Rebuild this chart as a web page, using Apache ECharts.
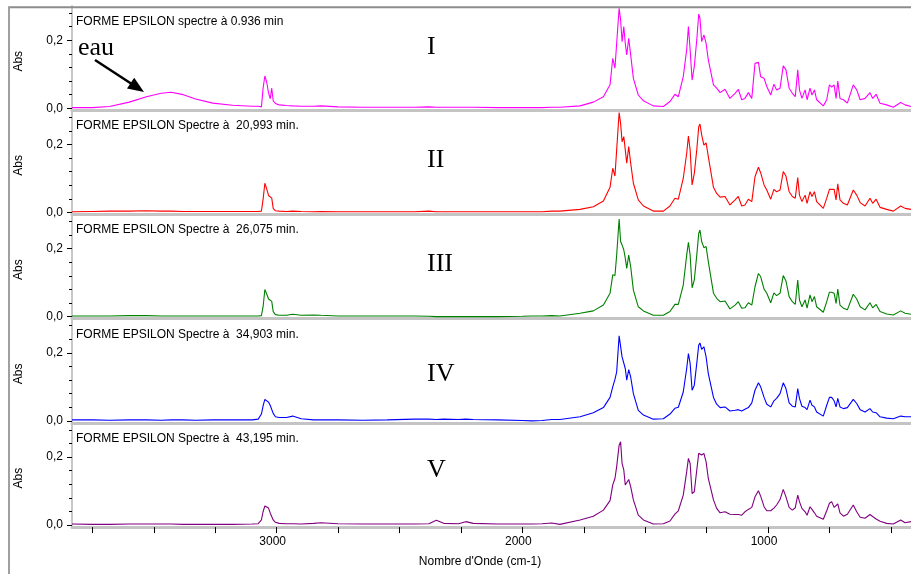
<!DOCTYPE html>
<html>
<head>
<meta charset="utf-8">
<script src="https://cdn.jsdelivr.net/npm/echarts@6/dist/echarts.min.js"></script>
<style>
html,body{margin:0;padding:0;background:#fff;}
#chart{width:911px;height:574px;}
</style>
</head>
<body>
<div id="chart"></div>
<script>
// ---- data ----
const wavenumbers = [
  3833,3750,3680,3600,3530,3470,3430,3380,3330,3260,
  3180,3100,3075,3062,3055,3048,3040,3033,3026,3020,
  3014,3005,2990,2960,2935,2900,2850,2820,2750,2650,
  2550,2440,2380,2350,2320,2260,2230,2200,2100,2000,
  1960,1920,1880,
  1847,1765,1711,1670,1643,1632,1623,1616,1606,1600,
  1594,1587,1581,1575,1567,1559,1548,1528,1507,1467,
  1426,1399,1379,1365,1345,1331,1324,1317,1309,1300,
  1290,1282,1277,1270,1261,1252,1243,1222,1209,1195,
  1175,1155,1134,1121,1107,1094,1080,1066,1053,1039,
  1030,1016,1005,989,976,965,951,938,927,914,
  901,889,879,872,862,849,841,829,821,811,
  802,775,761,750,741,731,723,716,707,693,
  677,653,639,625,605,585,574,560,544,517,
  490,460,442,418
];

const absI = [
  0.002,0.002,0.005,0.018,0.034,0.044,0.047,0.040,0.027,0.015,
  0.009,0.006,0.006,0.004,0.060,0.095,0.075,0.045,0.028,0.059,
  0.022,0.014,0.010,0.008,0.007,0.006,0.006,0.007,0.004,0.003,
  0.003,0.003,0.004,0.003,0.003,0.003,0.003,0.003,0.002,0.002,
  0.002,0.002,0.003,
  0.003,0.007,0.018,0.034,0.069,0.147,0.118,0.191,0.294,0.260,
  0.196,0.240,0.191,0.157,0.206,0.157,0.088,0.039,0.022,0.007,
  0.005,0.020,0.041,0.034,0.093,0.172,0.240,0.172,0.083,0.123,
  0.201,0.277,0.265,0.196,0.216,0.191,0.142,0.069,0.059,0.046,
  0.056,0.029,0.044,0.056,0.025,0.029,0.046,0.029,0.132,0.135,
  0.093,0.088,0.064,0.039,0.071,0.054,0.059,0.125,0.113,0.059,
  0.044,0.034,0.113,0.054,0.029,0.054,0.025,0.059,0.039,0.054,
  0.025,0.007,0.025,0.069,0.062,0.069,0.029,0.080,0.029,0.025,
  0.015,0.069,0.054,0.025,0.029,0.046,0.029,0.041,0.015,0.010,
  0.003,0.017,0.010,0.005
];

const absII = [
  0.002,0.003,0.004,0.004,0.005,0.004,0.004,0.003,0.003,0.003,
  0.003,0.003,0.003,0.004,0.040,0.086,0.068,0.050,0.046,0.042,
  0.012,0.005,0.004,0.003,0.004,0.003,0.002,0.003,0.002,0.002,
  0.002,0.002,0.004,0.002,0.002,0.002,0.002,0.002,0.002,0.002,
  0.002,0.002,0.004,
  0.004,0.009,0.017,0.034,0.074,0.130,0.107,0.184,0.294,0.262,
  0.208,0.223,0.184,0.145,0.194,0.145,0.086,0.037,0.019,0.004,
  0.004,0.019,0.042,0.039,0.100,0.174,0.225,0.184,0.081,0.115,
  0.184,0.252,0.260,0.228,0.198,0.205,0.164,0.074,0.056,0.045,
  0.047,0.022,0.037,0.047,0.019,0.022,0.039,0.032,0.105,0.133,
  0.117,0.081,0.066,0.039,0.068,0.061,0.066,0.120,0.107,0.061,
  0.047,0.042,0.103,0.051,0.032,0.051,0.027,0.061,0.047,0.061,
  0.032,0.012,0.042,0.068,0.068,0.068,0.037,0.084,0.037,0.027,
  0.022,0.066,0.051,0.029,0.019,0.042,0.027,0.039,0.015,0.009,
  0.004,0.019,0.012,0.009
];

const absIII = [
  0.002,0.002,0.002,0.003,0.003,0.002,0.002,0.002,0.002,0.002,
  0.002,0.002,0.002,0.003,0.030,0.080,0.066,0.052,0.055,0.045,
  0.015,0.006,0.004,0.004,0.007,0.004,0.005,0.004,0.002,0.002,
  0.002,0.002,0.001,0.000,0.000,0.000,0.000,0.000,0.000,0.001,
  0.002,0.002,0.003,
  0.002,0.010,0.017,0.034,0.069,0.123,0.121,0.181,0.287,0.221,
  0.211,0.196,0.172,0.142,0.181,0.147,0.078,0.029,0.017,0.004,
  0.004,0.015,0.036,0.036,0.093,0.181,0.219,0.181,0.085,0.108,
  0.181,0.245,0.255,0.221,0.203,0.206,0.162,0.069,0.054,0.044,
  0.046,0.023,0.034,0.044,0.025,0.026,0.041,0.034,0.088,0.127,
  0.118,0.081,0.069,0.041,0.070,0.062,0.069,0.121,0.105,0.059,
  0.044,0.036,0.108,0.049,0.029,0.049,0.025,0.064,0.044,0.059,
  0.029,0.013,0.044,0.072,0.072,0.069,0.039,0.081,0.034,0.025,
  0.020,0.066,0.052,0.029,0.020,0.041,0.026,0.036,0.015,0.008,
  0.005,0.017,0.010,0.007
];

const absIV = [
  0.003,0.003,0.002,0.003,0.003,0.002,0.003,0.003,0.002,0.003,
  0.003,0.003,0.005,0.020,0.045,0.063,0.060,0.055,0.045,0.040,
  0.022,0.012,0.010,0.010,0.014,0.006,0.003,0.003,0.003,0.002,
  0.003,0.005,0.005,0.004,0.005,0.004,0.005,0.004,0.003,0.001,
  0.000,0.001,0.004,
  0.004,0.012,0.024,0.039,0.069,0.100,0.122,0.144,0.250,0.255,
  0.188,0.188,0.154,0.120,0.151,0.129,0.080,0.031,0.017,0.005,
  0.006,0.020,0.037,0.040,0.085,0.154,0.198,0.169,0.090,0.105,
  0.169,0.223,0.229,0.210,0.218,0.188,0.139,0.069,0.049,0.039,
  0.041,0.029,0.031,0.033,0.029,0.034,0.039,0.053,0.090,0.112,
  0.100,0.069,0.049,0.041,0.059,0.066,0.080,0.112,0.095,0.053,
  0.043,0.041,0.095,0.066,0.043,0.039,0.033,0.061,0.046,0.041,
  0.026,0.014,0.046,0.069,0.069,0.059,0.041,0.066,0.041,0.036,
  0.039,0.063,0.051,0.033,0.026,0.036,0.026,0.024,0.012,0.008,
  0.006,0.014,0.012,0.012
];

const absV = [
  0.003,0.002,0.002,0.003,0.003,0.003,0.003,0.002,0.002,0.002,
  0.002,0.003,0.004,0.015,0.040,0.056,0.056,0.050,0.035,0.030,
  0.015,0.008,0.005,0.004,0.004,0.003,0.005,0.007,0.004,0.003,
  0.003,0.003,0.004,0.014,0.005,0.004,0.010,0.005,0.003,0.003,
  0.003,0.004,0.006,
  0.002,0.015,0.026,0.044,0.072,0.118,0.137,0.172,0.235,0.245,
  0.181,0.162,0.118,0.113,0.134,0.113,0.074,0.029,0.015,0.003,
  0.004,0.012,0.032,0.042,0.088,0.157,0.196,0.181,0.093,0.098,
  0.162,0.211,0.216,0.206,0.211,0.186,0.137,0.074,0.049,0.036,
  0.039,0.032,0.031,0.031,0.029,0.039,0.046,0.052,0.083,0.101,
  0.085,0.054,0.042,0.042,0.050,0.059,0.075,0.105,0.083,0.052,
  0.044,0.051,0.088,0.069,0.049,0.039,0.029,0.054,0.046,0.036,
  0.026,0.017,0.042,0.064,0.069,0.052,0.056,0.062,0.036,0.026,
  0.032,0.059,0.039,0.023,0.020,0.031,0.025,0.018,0.011,0.005,
  0.003,0.015,0.007,0.010
];

const seriesValues = [absI, absII, absIII, absIV, absV];
const panelTitles = [
  'FORME EPSILON spectre à 0.936 min',
  'FORME EPSILON Spectre à  20,993 min.',
  'FORME EPSILON Spectre à  26,075 min.',
  'FORME EPSILON Spectre à  34,903 min.',
  'FORME EPSILON Spectre à  43,195 min.'
];
const romanLabels = ['I', 'II', 'III', 'IV', 'V'];
const colors = ['#ff00ff', '#ff0000', '#008000', '#0000ff', '#800080'];
const yMajorTicks = [0, 0.2];
const yMinorTicks = [0.04, 0.08, 0.12, 0.16, 0.24, 0.28];
const xTicks = [3750, 3500, 3250, 3000, 2750, 2500, 2250, 2000, 1750, 1500, 1250, 1000, 750, 500];
const xLabels = [3000, 2000, 1000];
const xMin = 418, xMax = 3833;
const yMin = -0.006;
const xAxisTitle = "Nombre d'Onde (cm-1)";
const yAxisTitle = 'Abs';
const annotationText = 'eau';

// ---- layout ----
const PANEL_H = 104.2;
const PANEL_TOP0 = 6.1;
const PX_PER_ABS = 340;
const yMax = yMin + PANEL_H / PX_PER_ABS;
const romanY = [47, 160, 264, 374, 470];

const chart = echarts.init(document.getElementById('chart'), null, {renderer: 'canvas'});
const FONT = '"Liberation Sans", Arial, sans-serif';
const SERIF = '"Liberation Serif", "Times New Roman", serif';

const grids = [], xAxes = [], yAxes = [], series = [], graphics = [];
for (let i = 0; i < 5; i++) {
  const top = PANEL_TOP0 + PANEL_H * i;
  const zeroY = top + PANEL_H - (0 - yMin) * PX_PER_ABS;
  grids.push({left: 72, right: 0, top: top, height: PANEL_H, containLabel: false});
  const last = i === 4;
  xAxes.push({
    type: 'value', gridIndex: i, min: xMin, max: xMax, inverse: true,
    axisLine: {show: true, onZero: false, lineStyle: {color: '#c4c4c4', width: 3}},
    axisTick: {show: last, length: 6, customValues: xTicks, lineStyle: {color: '#000', width: 1}},
    axisLabel: {show: last, customValues: xLabels, margin: 9, color: '#000', fontSize: 12, fontFamily: FONT,
      padding: [0, 8, 0, 0], formatter: v => String(Math.round(v))},
    splitLine: {show: false}
  });
  yAxes.push({
    type: 'value', gridIndex: i, min: yMin, max: yMax, position: 'left', offset: 0,
    axisLine: {show: true, onZero: false, lineStyle: {color: '#c8c8c8', width: 2}},
    axisTick: {show: true, inside: false, length: 5, customValues: yMajorTicks, lineStyle: {color: '#000', width: 1}},
    axisLabel: {show: true, customValues: yMajorTicks, margin: 9, color: '#000', fontSize: 12, fontFamily: FONT,
      formatter: v => v.toFixed(1).replace('.', ',')},
    splitLine: {show: false}
  });
  yAxes.push({
    type: 'value', gridIndex: i, min: yMin, max: yMax, position: 'left', offset: 0,
    axisLine: {show: false},
    axisTick: {show: true, inside: false, length: 3, customValues: yMinorTicks, lineStyle: {color: '#000', width: 1}},
    axisLabel: {show: false},
    splitLine: {show: false}
  });
  series.push({
    type: 'line', xAxisIndex: i, yAxisIndex: 2 * i,
    data: wavenumbers.map((w, k) => [w, seriesValues[i][k]]),
    showSymbol: false, symbol: 'none', smooth: false, clip: true,
    lineStyle: {color: colors[i], width: 1.1},
    itemStyle: {color: colors[i]},
    animation: false, z: 3
  });
  graphics.push({
    type: 'text', x: 76, y: top + 15.5,
    style: {text: panelTitles[i], fontSize: 12, fontFamily: FONT, fill: '#000', textAlign: 'left', textVerticalAlign: 'middle'}
  });
  graphics.push({
    type: 'text', x: 427, y: romanY[i],
    style: {text: romanLabels[i], fontSize: 26, fontFamily: SERIF, fill: '#000', textAlign: 'left', textVerticalAlign: 'middle'}
  });
  graphics.push({
    type: 'text', x: 19, y: zeroY - 47, rotation: Math.PI / 2,
    style: {text: yAxisTitle, fontSize: 12, fontFamily: FONT, fill: '#000', textAlign: 'center', textVerticalAlign: 'middle'}
  });
}

// frame
graphics.push({type: 'line', shape: {x1: 8, y1: 7.3, x2: 911, y2: 7.3}, style: {stroke: '#8c8c8c', lineWidth: 2}, z: 10});
graphics.push({type: 'line', shape: {x1: 9, y1: 7, x2: 9, y2: 574}, style: {stroke: '#a0a0a0', lineWidth: 2}, z: 10});
// x axis title
graphics.push({type: 'text', x: 480, y: 562,
  style: {text: xAxisTitle, fontSize: 12, fontFamily: FONT, fill: '#000', textAlign: 'center', textVerticalAlign: 'middle'}});
// "eau" annotation and arrow
graphics.push({type: 'text', x: 78, y: 48,
  style: {text: annotationText, fontSize: 26, fontFamily: SERIF, fill: '#000', textAlign: 'left', textVerticalAlign: 'middle'}});
graphics.push({type: 'line', shape: {x1: 95, y1: 60, x2: 131, y2: 83.5}, style: {stroke: '#000', lineWidth: 2.5}});
graphics.push({type: 'polygon', shape: {points: [[144, 92], [127, 88.6], [134.2, 77.8]]}, style: {fill: '#000'}});

chart.setOption({
  animation: false,
  backgroundColor: '#fff',
  grid: grids,
  xAxis: xAxes,
  yAxis: yAxes,
  series: series,
  graphic: graphics
});
</script>
</body>
</html>
